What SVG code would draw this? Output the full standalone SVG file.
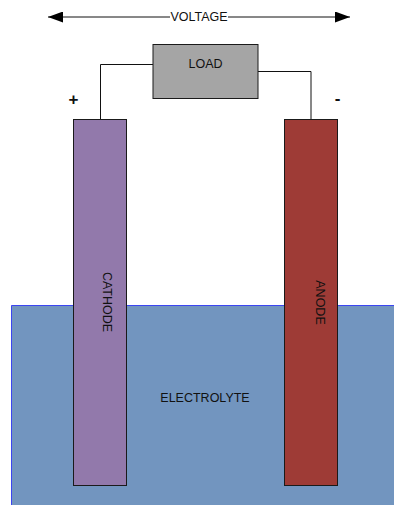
<svg xmlns="http://www.w3.org/2000/svg" width="394" height="505" viewBox="0 0 394 505">
<defs>
<style>
text{font-family:"Liberation Sans",Arial,sans-serif;font-size:12.500px;fill:#111;text-anchor:middle}
.b{stroke:#1a1a1a;stroke-width:1}
.w{fill:none;stroke:#111;stroke-width:1}
.s{font-size:17px;font-weight:bold}
</style>
<marker id="a" markerUnits="userSpaceOnUse" markerWidth="15" markerHeight="11" refX="15" refY="5.5" orient="auto-start-reverse"><path d="M0 0L15 5.5L0 11Z" fill="#000"/></marker>
</defs>
<rect width="394" height="505" fill="#fff"/>
<g id="electrolyte">
<path d="M394 505H11.500V305.500H394Z" fill="#7295bf" stroke="none"/>
<path d="M11.500 505V305.500H394" fill="none" stroke="#3c45f0" stroke-width="1"/>
<text x="205" y="402">ELECTROLYTE</text>
</g>
<g id="connectors">
<line class="w" x1="48" y1="17" x2="170" y2="17" marker-start="url(#a)"/>
<line class="w" x1="228" y1="17" x2="350" y2="17" marker-end="url(#a)"/>
<path class="w" d="M153 64.500H100.500V119"/>
<path class="w" d="M258 71.500H311V119"/>
</g>
<g id="voltage"><text x="199" y="21">VOLTAGE</text></g>
<g id="load">
<rect class="b" x="153" y="44.500" width="105" height="54" fill="#a5a5a5"/>
<text x="205.500" y="68">LOAD</text>
</g>
<g id="plus"><text class="s" x="73.500" y="105">+</text></g>
<g id="minus"><text class="s" x="337.500" y="104">-</text></g>
<g id="cathode">
<rect class="b" x="73.500" y="119.500" width="53" height="366" fill="#9279ab"/>
<text transform="translate(102.500 302) rotate(90)">CATHODE</text>
</g>
<g id="anode">
<rect class="b" x="284.500" y="119.500" width="53" height="366" fill="#9e3b36"/>
<text transform="translate(316 302.500) rotate(90)">ANODE</text>
</g>
</svg>
